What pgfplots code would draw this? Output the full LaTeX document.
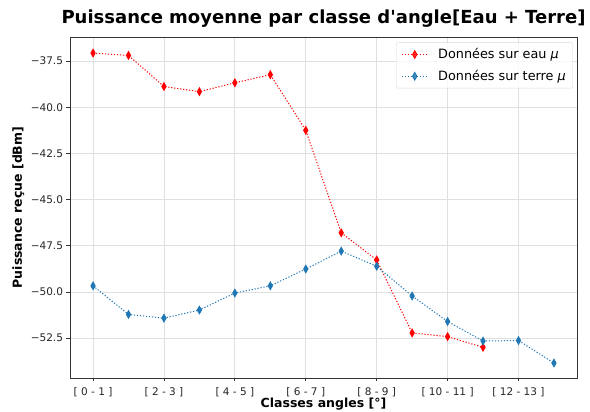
\documentclass[border=0pt]{standalone}
\usepackage{fontspec}
\setmainfont{DejaVu Sans}
\usepackage{pgfplots}
\pgfplotsset{compat=1.18}
\begin{document}
\begin{tikzpicture}[x=1pt,y=1pt]
\path[use as bounding box] (0,0) rectangle (590,412);
\begin{axis}[
  at={(70pt,34pt)}, anchor=south west, scale only axis,
  width=507pt, height=341pt,
  xmin=-0.65, xmax=13.65, ymin=-54.66, ymax=-36.2,
  xtick={0,2,4,6,8,10,12},
  xticklabels={{[ 0 - 1 ]},{[ 2 - 3 ]},{[ 4 - 5 ]},{[ 6 - 7 ]},{[ 8 - 9 ]},{[ 10 - 11 ]},{[ 12 - 13 ]}},
  ytick={-52.5,-50,-47.5,-45,-42.5,-40,-37.5},
  yticklabels={−52.5,−50.0,−47.5,−45.0,−42.5,−40.0,−37.5},
  xtick pos=bottom, ytick pos=left, tick align=outside,
  major tick length=3.5pt,
  tick style={black!80, line width=0.8pt},
  axis line style={black!80, line width=0.8pt},
  ticklabel style={font=\fontsize{10.5}{12}\selectfont, text=black!85},
  xticklabel style={yshift=-2pt},
  grid=major, major grid style={black!12, line width=0.8pt},
  title={Puissance moyenne par classe d\textquotesingle angle[Eau + Terre]},
  title style={font=\fontsize{18}{21}\bfseries, at={(axis description cs:0.5,1)}, anchor=base, yshift=7pt, inner sep=0pt},
  xlabel={Classes angles [°]},
  xlabel style={font=\fontsize{12.5}{14}\bfseries, at={(axis description cs:0.5,-0.078)}, anchor=center},
  ylabel={Puissance reçue [dBm]},
  ylabel style={font=\fontsize{12.5}{14}\bfseries, at={(axis description cs:-0.102,0.5)}, anchor=center, rotate=0},
  legend style={at={(0.992,0.984)}, anchor=north east, draw=black!15, rounded corners=2pt,
    fill=white, fill opacity=0.8, text opacity=1, font=\fontsize{12.8}{15}\selectfont,
    row sep=6pt, inner xsep=5pt, inner ysep=4pt,
    /tikz/every odd column/.append style={column sep=8pt}},
  legend cell align=left,
  legend image code/.code={\draw[mark repeat=2,mark phase=2,#1] plot coordinates {(0pt,0pt)(13pt,0pt)(26pt,0pt)};},
]
\addplot[red, line width=1pt, dash pattern=on 1.2pt off 1.8pt, mark=diamond*, mark size=3.7pt, mark options={solid, xscale=0.75, fill=red}]
coordinates {(0,-37.07) (1,-37.2) (2,-38.88) (3,-39.16) (4,-38.68) (5,-38.24) (6,-41.25) (7,-46.8) (8,-48.27) (9,-52.22) (10,-52.42) (11,-53.0)};
\addlegendentry{Données sur eau \textit{μ}}
\addplot[color={rgb,255:red,31;green,119;blue,180}, line width=1pt, dash pattern=on 1.2pt off 1.8pt, mark=diamond*, mark size=3.7pt, mark options={solid, xscale=0.75}]
coordinates {(0,-49.67) (1,-51.22) (2,-51.42) (3,-50.98) (4,-50.06) (5,-49.67) (6,-48.76) (7,-47.79) (8,-48.61) (9,-50.22) (10,-51.6) (11,-52.66) (12,-52.63) (13,-53.85)};
\addlegendentry{Données sur terre \textit{μ}}
\end{axis}
\end{tikzpicture}
\end{document}
